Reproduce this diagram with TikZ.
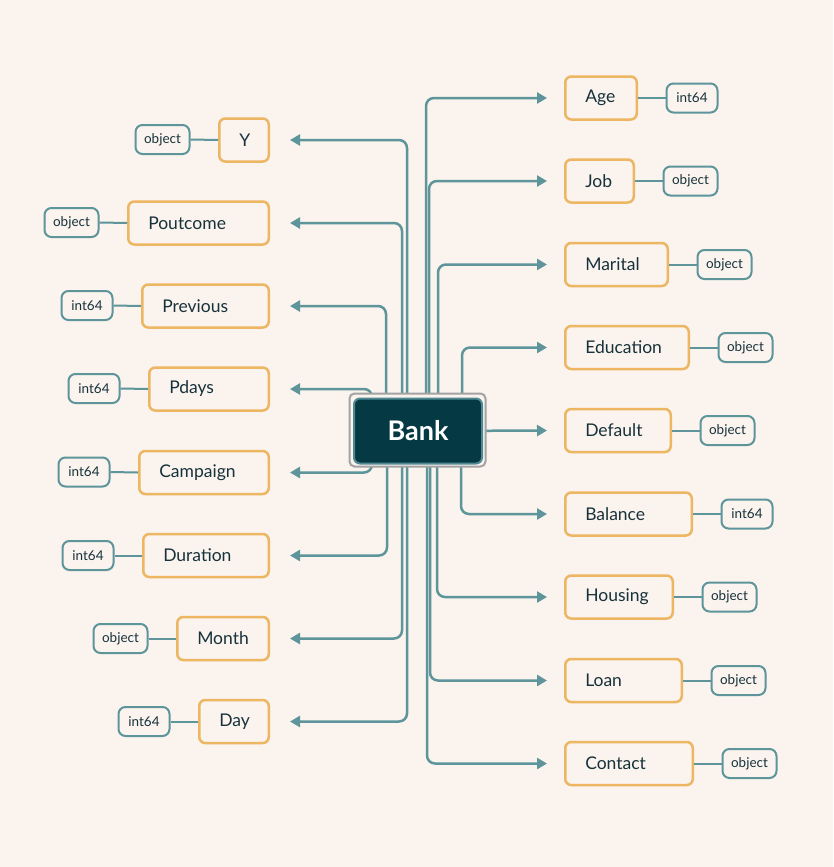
\documentclass[tikz,border=0pt]{standalone}
\usepackage{fontspec}
\setmainfont{Lato}
\usetikzlibrary{arrows.meta,calc}
\definecolor{bg}{HTML}{FAF3EE}
\definecolor{orng}{HTML}{EDB662}
\definecolor{tealc}{HTML}{5E959B}
\definecolor{txt}{HTML}{17323B}
\definecolor{bankfill}{HTML}{053A45}
\definecolor{bankline}{HTML}{4F8A92}
\definecolor{selgray}{HTML}{A3A3A3}
\begin{document}
\begin{tikzpicture}[x=1pt,y=-1pt,
  field/.style={draw=orng, line width=2.5pt, rounded corners=6pt, fill=bg,
    minimum height=43pt, inner xsep=20pt, inner ysep=0pt, align=left,
    font=\fontsize{17.5}{20}\selectfont, text=txt, text width=#1},
  fieldR/.style={field=#1, anchor=west},
  fieldL/.style={field=#1, anchor=east},
  typ/.style={draw=tealc, line width=2pt, rounded corners=7pt, fill=bg,
    minimum height=29pt, minimum width=#1, inner xsep=0pt, inner ysep=0pt,
    font=\fontsize{13.5}{15}\selectfont, text=txt},
  typR/.style={typ=#1, anchor=west},
  typL/.style={typ=#1, anchor=east},
  conn/.style={draw=tealc, line width=2.5pt, rounded corners=8pt,
    -{Triangle[length=10pt,width=11pt]}},
  connR/.style={conn, shorten >=17pt},
  connL/.style={conn, shorten >=20pt},
  link/.style={draw=tealc, line width=2pt},
]
\fill[bg] (0,0) rectangle (833,867);
\useasboundingbox (0,0) rectangle (833,867);

% right fields
\node[fieldR=31.5pt] (age) at (564,98) {Age};
\node[fieldR=28.5pt] (job) at (564,181) {Job};
\node[fieldR=62.5pt] (marital) at (564,264.5) {Marital};
\node[fieldR=83.5pt] (education) at (564,347.5) {Education};
\node[fieldR=65.5pt] (default) at (564,430.5) {Default};
\node[fieldR=86.5pt] (balance) at (564,514) {Balance};
\node[fieldR=67.5pt] (housing) at (564,597) {Housing};
\node[fieldR=76.5pt] (loan) at (564,680.5) {Loan};
\node[fieldR=87.5pt] (contact) at (564,763.5) {Contact};

% right types
\node[typR=51pt] (tage) at (665.5,98) {int64};
\node[typR=54pt] (tjob) at (662.5,181) {object};
\node[typR=54pt] (tmarital) at (696.5,264.5) {object};
\node[typR=54pt] (teducation) at (717.5,347.5) {object};
\node[typR=54pt] (tdefault) at (699.5,430.5) {object};
\node[typR=51pt] (tbalance) at (720.5,514) {int64};
\node[typR=54pt] (thousing) at (701.5,597) {object};
\node[typR=54pt] (tloan) at (710.5,680.5) {object};
\node[typR=54pt] (tcontact) at (721.5,763.5) {object};

% left fields
\node[fieldL=9.5pt] (y) at (270,140) {Y};
\node[fieldL=100.5pt] (poutcome) at (270,223) {Poutcome};
\node[fieldL=86.5pt] (previous) at (270,306) {Previous};
\node[fieldL=79.5pt] (pdays) at (270,389) {Pdays};
\node[fieldL=89.5pt] (campaign) at (270,472.5) {Campaign};
\node[fieldL=85.5pt] (duration) at (270,555.5) {Duration};
\node[fieldL=51.5pt] (month) at (270,638.5) {Month};
\node[fieldL=29.5pt] (day) at (270,721.5) {Day};

% left types
\node[typL=54pt] (ty) at (190.5,139.5) {object};
\node[typL=54pt] (tpoutcome) at (99.5,222.5) {object};
\node[typL=51pt] (tprevious) at (113.5,305.5) {int64};
\node[typL=51pt] (tpdays) at (120.5,388.5) {int64};
\node[typL=51pt] (tcampaign) at (110.5,472) {int64};
\node[typL=51pt] (tduration) at (114.5,555.5) {int64};
\node[typL=54pt] (tmonth) at (148.5,638.5) {object};
\node[typL=51pt] (tday) at (170.5,721.5) {int64};

% links
\foreach \a in {age,job,marital,education,default,balance,housing,loan,contact}
  \draw[link] (\a.east) -- (t\a.west);
\foreach \a in {y,poutcome,previous,pdays,campaign,duration,month,day}
  \draw[link] (\a.west) -- (t\a.east);

\coordinate (bc) at (418,431);

% connectors right
\draw[connR] ($(bc)+(8,0)$) |- (age.west);
\draw[connR] ($(bc)+(11,0)$) |- (job.west);
\draw[connR] ($(bc)+(20,0)$) |- (marital.west);
\draw[connR] ($(bc)+(44,0)$) |- (education.west);
\draw[connR] (bc) -- (default.west);
\draw[connR] ($(bc)+(43,0)$) |- (balance.west);
\draw[connR] ($(bc)+(19,0)$) |- (housing.west);
\draw[connR] ($(bc)+(12,0)$) |- (loan.west);
\draw[connR] ($(bc)+(9,0)$) |- (contact.west);

% connectors left
\draw[connL] ($(bc)+(-11,0)$) |- (y.east);
\draw[connL] ($(bc)+(-16,0)$) |- (poutcome.east);
\draw[connL] ($(bc)+(-32,0)$) |- (previous.east);
\draw[connL] ($(bc)+(-46,0)$) |- (pdays.east);
\draw[connL] ($(bc)+(-46,0)$) |- (campaign.east);
\draw[connL] ($(bc)+(-31,0)$) |- (duration.east);
\draw[connL] ($(bc)+(-16,0)$) |- (month.east);
\draw[connL] ($(bc)+(-11,0)$) |- (day.east);

% bank
\draw[selgray, line width=2pt, fill=bg, rounded corners=5pt] (349.5,393.5) rectangle (485.5,466.5);
\node[draw=bankline, line width=2pt, fill=bankfill, rounded corners=6pt,
  minimum width=128pt, minimum height=65pt, text=white,
  font=\fontsize{27}{30}\bfseries\selectfont] (bank) at (bc) {Bank};
\end{tikzpicture}
\end{document}
